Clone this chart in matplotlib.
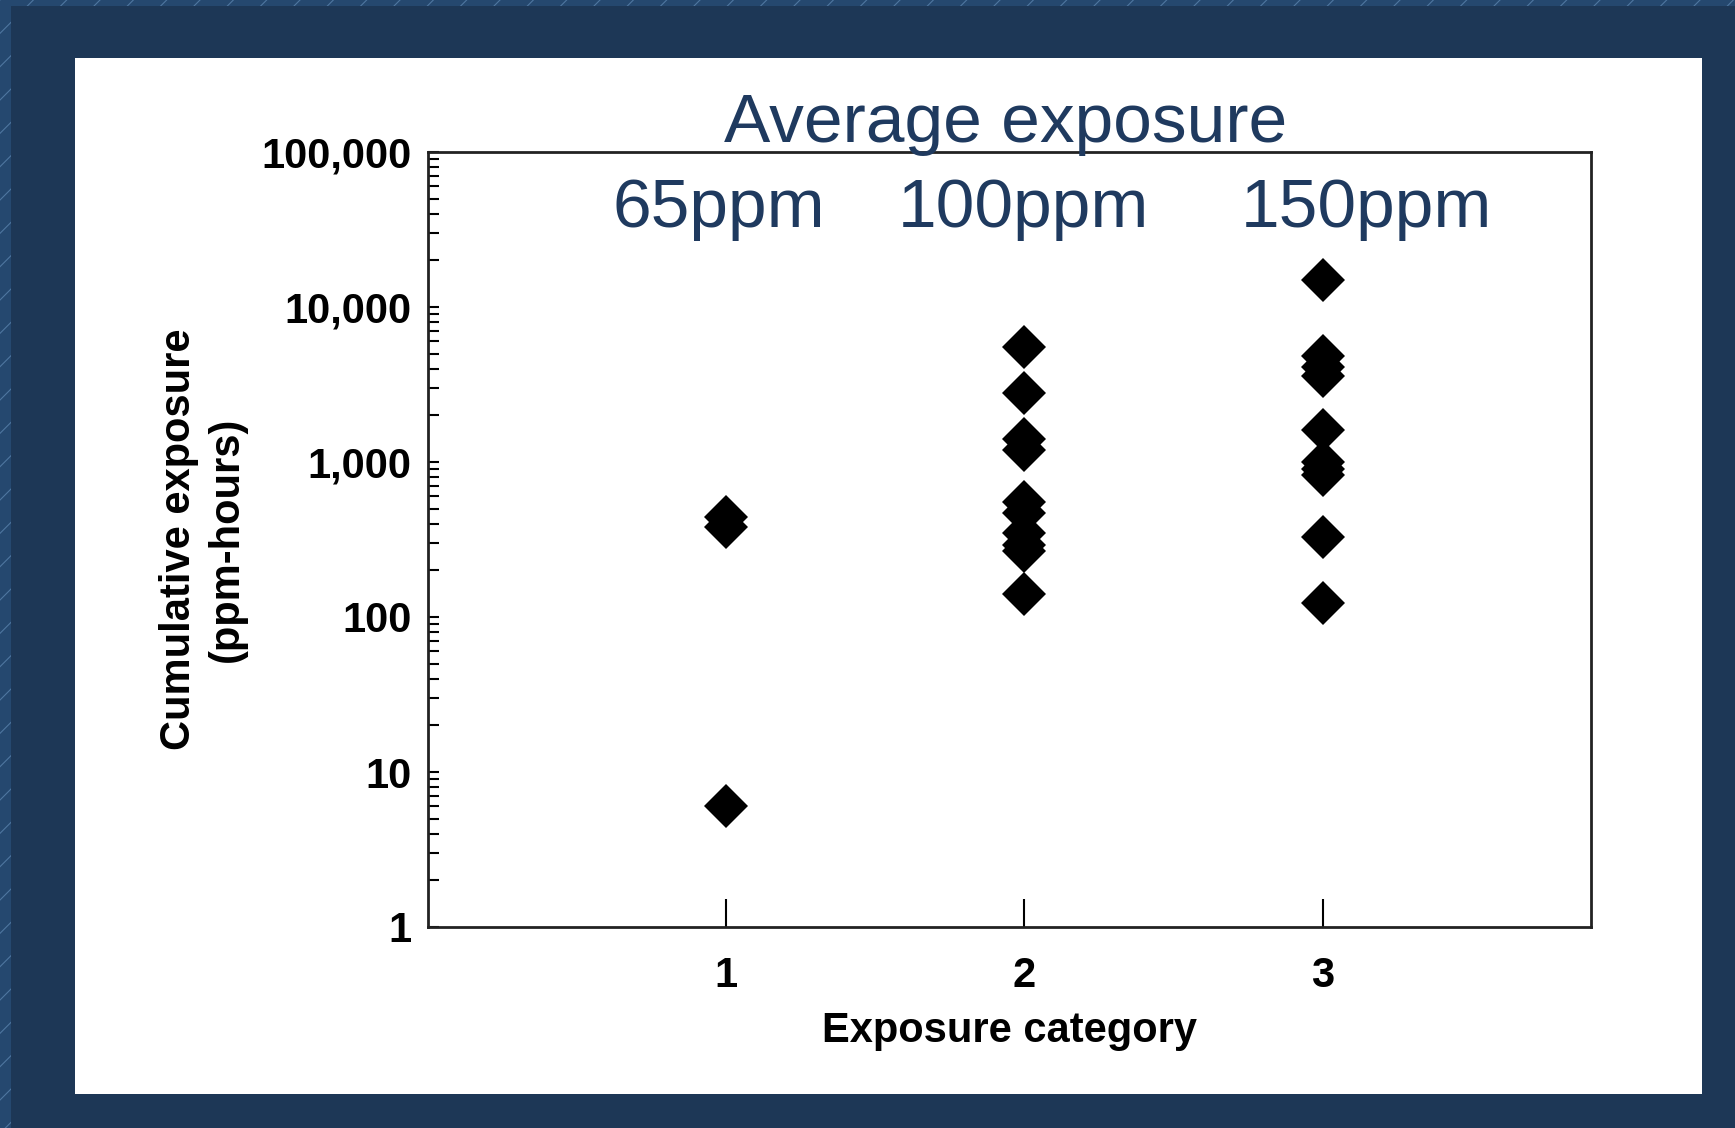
import numpy as np
import matplotlib
matplotlib.use("Agg")
import matplotlib.pyplot as plt
from matplotlib.patches import Rectangle

plt.rcParams['font.family'] = ['Liberation Sans', 'DejaVu Sans']
plt.rcParams['hatch.linewidth'] = 0.8

# data
categories = [1, 2, 3]
cat1 = [440, 380, 6]
cat2 = [5500, 2800, 1400, 1200, 555, 470, 350, 290, 265, 140]
cat3 = [15000, 4800, 4100, 3600, 1600, 1000, 900, 820, 330, 123]
series = [cat1, cat2, cat3]
dose_labels = ["65ppm", "100ppm", "150ppm"]
ytick_vals = [1, 10, 100, 1000, 10000, 100000]
ytick_labels = ["1", "10", "100", "1,000", "10,000", "100,000"]

navy = "#1d3756"
text_blue = "#1f3a5f"

fig = plt.figure(figsize=(17.35, 11.28), dpi=100)
fig.patch.set_facecolor(navy)

# slide background: striped rim, dark frame, white panel
W, H = 1735.0, 1128.0
fig.patches.append(Rectangle((0, 0), 1, 1, transform=fig.transFigure,
                             facecolor="#25486f", edgecolor="#4f76a0",
                             hatch="/", lw=0, zorder=-3))
fig.patches.append(Rectangle((11 / W, 0), 1, 1 - 6 / H, transform=fig.transFigure,
                             facecolor=navy, lw=0, zorder=-2))
fig.patches.append(Rectangle((75 / W, 1 - 1094 / H), (1702 - 75) / W, (1094 - 58) / H,
                             transform=fig.transFigure, facecolor="white", lw=0, zorder=-1))

ax = fig.add_axes([428 / W, 1 - 927 / H, (1591 - 428) / W, (927 - 152) / H])
ax.set_facecolor("white")

for x, vals in zip(categories, series):
    ax.plot(np.full(len(vals), x), vals, 'D', color='black', markersize=22,
            markeredgewidth=0, clip_on=False)

ax.set_yscale('log')
ax.set_ylim(1, 100000)
ax.set_xlim(0, 3.9)
ax.set_yticks(ytick_vals)
ax.set_yticklabels(ytick_labels)
ax.set_xticks(categories)
ax.set_xticklabels([str(c) for c in categories])

ax.tick_params(axis='y', which='both', direction='in', length=8, width=1.5,
               labelsize=30, pad=12)
ax.tick_params(axis='x', direction='in', length=20, width=1.5, labelsize=30, pad=21)
for lab in ax.get_xticklabels() + ax.get_yticklabels():
    lab.set_fontweight('bold')
for sp in ax.spines.values():
    sp.set_linewidth(2)
    sp.set_color('#222222')

ax.set_xlabel("Exposure category", fontsize=30, fontweight='bold', labelpad=11)
ax.set_ylabel("Cumulative exposure\n(ppm-hours)", fontsize=30, fontweight='bold',
              labelpad=10, linespacing=1.25)

fig.text(1006 / W, 1 - 141.7 / H, "Average exposure", fontsize=50, color=text_blue,
         ha='center', va='baseline')
for xpix, lab in zip([719, 1023, 1366], dose_labels):
    fig.text(xpix / W, 1 - 226.7 / H, lab, fontsize=50, color=text_blue,
             ha='center', va='baseline')

fig.savefig("out.png", dpi=100, facecolor=fig.get_facecolor())
